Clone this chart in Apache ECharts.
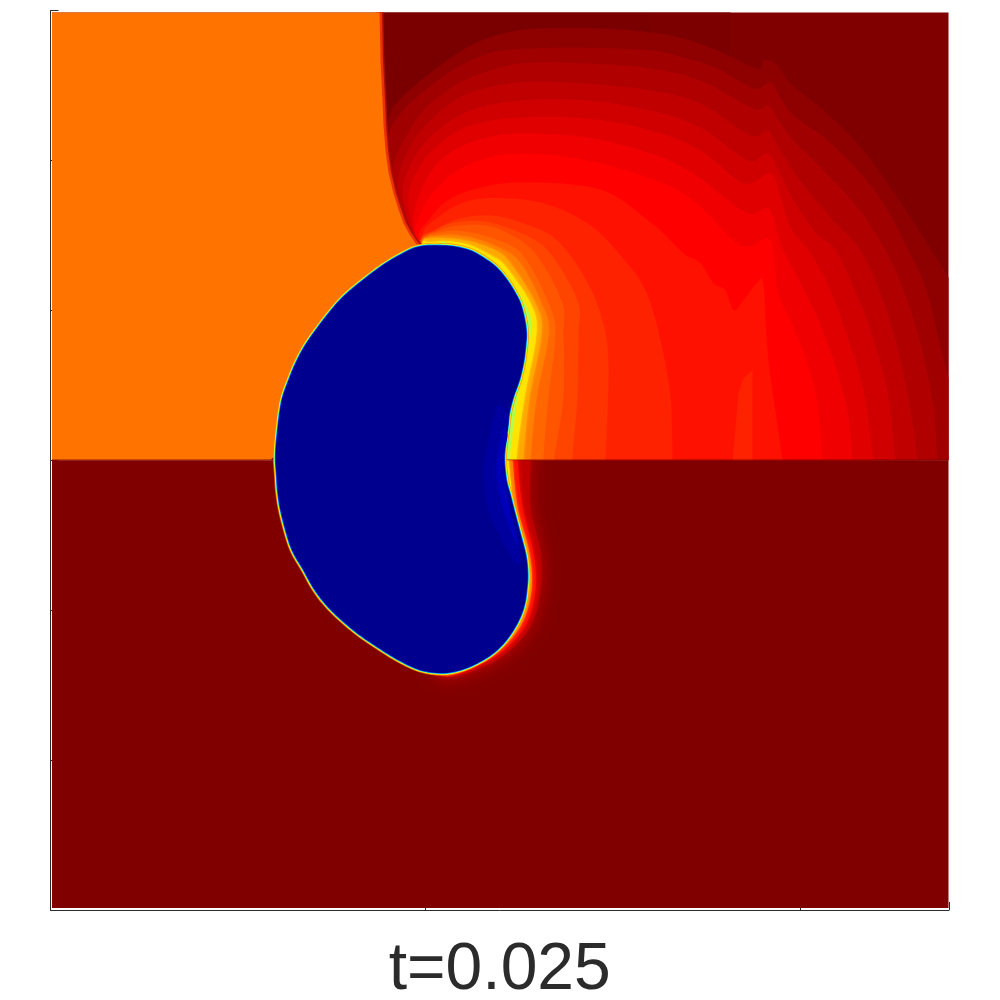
<!DOCTYPE html>
<html><head><meta charset="utf-8">
<script src="https://cdn.jsdelivr.net/npm/echarts@6/dist/echarts.min.js"></script>
<style>html,body{margin:0;padding:0;background:#fff}#c{width:1000px;height:1000px}</style>
</head><body><div id="c"></div>
<script>
const title = 't=0.025';
const xTickStep = 375, yTickStep = 150;
const domainTop = [[1.5,2],[898,2],[898,450],[1.5,450]];
const domainBottom = [[1.5,450],[898,450],[898,898],[1.5,898]];
const topDarkA = [[329,2],[600,2],[600,60],[329,200]];
const topDarkB = [[600,2],[680,2],[680,60],[600,60]];
const L1 = [[930,480],[925,310],[898,267],[860,207],[833,167],[807,133],[773,100],[740,73],[725,53],[713,50],[707,58],[667,40],[633,28],[600,22],[553,18],[487,18],[453,23],[420,35],[387,57],[353,85],[338,107],[335,140],[343,183],[353,213],[365,233],[380,290],[430,480]];
const L2 = [[930,480],[925,430],[898,367],[877,283],[858,240],[833,193],[810,163],[777,130],[743,105],[730,87],[720,72],[703,78],[667,58],[633,47],[600,40],[520,37],[453,40],[420,50],[387,70],[350,103],[337,133],[343,183],[353,213],[365,233],[380,290],[430,480]];
const L3 = [[889,480],[887,450],[883,397],[870,333],[853,280],[835,240],[807,197],[773,160],[743,130],[728,110],[718,95],[703,98],[650,70],[600,58],[537,53],[470,53],[420,67],[387,87],[363,113],[342,157],[348,190],[358,218],[367,233],[380,290],[430,480]];
const L4 = [[869,480],[867,450],[860,400],[847,337],[830,283],[810,240],[780,207],[747,167],[728,137],[717,120],[700,125],[650,93],[600,80],[537,73],[470,72],[420,82],[387,103],[363,130],[348,165],[350,195],[360,222],[367,235],[380,290],[430,480]];
const L5 = [[847,480],[845,450],[837,383],[820,320],[803,277],[785,240],[765,222],[743,190],[728,160],[717,143],[697,150],[650,117],[600,100],[537,90],[470,90],[420,100],[387,120],[365,145],[353,175],[355,202],[362,225],[368,235],[380,290],[430,480]];
const L6 = [[825,480],[823,450],[813,380],[797,327],[780,280],[760,243],[740,217],[730,187],[720,163],[693,173],[650,140],[600,120],[537,108],[470,107],[420,115],[387,135],[367,160],[358,185],[360,210],[365,228],[380,290],[430,480]];
const L7 = [[803,480],[802,450],[797,400],[783,350],[767,307],[750,273],[733,240],[727,223],[718,198],[695,202],[643,163],[600,143],[537,127],[470,123],[437,127],[403,140],[380,162],[365,195],[363,218],[370,235],[380,290],[430,480]];
const L8 = [[773,480],[772,450],[767,393],[757,353],[743,317],[728,283],[723,243],[717,228],[690,235],[643,190],[600,168],[537,150],[470,143],[420,153],[387,177],[370,203],[365,230],[380,290],[430,480]];
const L9 = [[735,480],[732,450],[718,350],[713,275],[707,272],[693,290],[683,300],[675,280],[663,273],[650,253],[633,243],[613,223],[600,212],[553,180],[487,172],[440,175],[400,188],[378,210],[368,230],[380,290],[430,480]];
const L10 = [[622,480],[622,450],[620,387],[610,330],[595,280],[570,245],[540,215],[500,195],[460,188],[420,190],[390,205],[370,230],[380,290],[430,480]];
const pocket = [[682,452],[688,383],[693,368],[702,360],[702,452]];
const L11 = [[555,480],[555,450],[558,353],[550,303],[530,260],[503,227],[470,212],[440,205],[410,208],[387,218],[372,233],[380,290],[430,480]];
const L12 = [[522,480],[522,447],[527,387],[528,323],[528,293],[507,253],[485,230],[440,212],[405,212],[385,220],[370,233],[385,290],[430,480]];
const L13 = [[504,480],[504,447],[513,387],[513,323],[512,293],[490,250],[470,230],[440,216],[410,215],[390,220],[372,233],[385,290],[430,480]];
const L14 = [[493,480],[493,447],[498,387],[505,323],[498,293],[478,253],[460,235],[420,222],[390,222],[372,234],[385,290],[430,480]];
const L15 = [[480,480],[480,447],[486,387],[498,323],[491,293],[470,253],[450,238],[420,227],[390,225],[372,235],[385,290],[430,480]];
const L16 = [[473,480],[473,447],[479,387],[491,323],[485,293],[460,253],[445,240],[420,231],[400,228],[380,228],[372,235],[385,290],[430,480]];
const L17 = [[466,480],[466,447],[474,387],[486,323],[480,293],[455,256],[440,245],[420,235],[400,231],[380,232],[372,236],[385,290],[430,480]];
const L18 = [[459,480],[459,447],[467,387],[480,323],[474,293],[447,258],[422,243],[403,236],[388,236],[385,290],[430,480]];
const bandColors = ['#8f0000','#a00000','#b00000','#c00000','#d00000','#e00000','#f00000','#ff0000','#ff1100','#ff2200','#ff3300','#ff4400','#ff5500','#ff6600','#ff8000','#ffa800','#ffe400','#b0ff50'];
const bandSoft = [0,0,0,0,0,0,0,0,0,0,0,0,0,0,2,3,3,2];
const orangeEdge = [[329,2],[330,50],[332,90],[333,115],[335,140],[338,162],[343,183],[348,199],[353,213],[359,224],[365,233],[370,238]];
const orange = [[329,2],[330,50],[332,90],[333,115],[335,140],[338,162],[343,183],[348,199],[353,213],[359,224],[365,233],[370,238],[370,290],[220,450],[1.5,450],[1.5,2]];
const seam = [[1.5,449],[898,449],[898,450],[1.5,450]];
const H2 = [[480,420],[480,450],[480,497],[490,543],[490,580],[480,616],[455,644],[420,662],[392,666],[385,650],[420,560],[430,420]];
const H3 = [[465,420],[467,450],[472,497],[483,543],[485,580],[475,615],[451,642],[415,661],[392,665],[385,650],[420,560],[430,420]];
const H4 = [[460,420],[462,450],[467,497],[479,543],[481,580],[471,614],[448,641],[412,660],[392,664],[385,650],[420,560],[430,420]];
const H5 = [[456,420],[458,450],[464,497],[477,543],[479,578],[469,613],[446,640],[411,660],[392,663.5],[385,650],[420,560],[430,420]];
const haloColors = ['#c00000','#ff1000','#ff8000','#ffe800'];
const haloSoft = [18,5,3,2];
const blob = [[370,236],[383,235],[403,236],[422,241],[440,252],[449,260],[457,270],[464,281],[470,293],[474,308],[476,323],[475,338],[473,353],[469,370],[463,387],[459,403],[457,420],[455,435],[454,450],[456,470],[460,485],[463,497],[469,520],[475,543],[477,558],[477,573],[474,595],[467,613],[456,630],[443,643],[427,653],[410,660],[392,663],[370,660],[348,650],[327,637],[308,624],[290,609],[275,594],[263,578],[253,560],[243,543],[237,527],[230,500],[227,480],[226,465],[225,450],[225.5,435],[227,420],[229,403],[232,387],[238,370],[245,353],[254,336],[265,320],[278,303],[292,287],[312,270],[335,253],[358,240]];
const deep1 = [[447,395],[438,430],[433,460],[437,497],[450,527],[465,553],[471,545],[460,500],[452,450],[458,410]];
const deep2 = [[452,420],[446,455],[450,490],[462,525],[468,535],[458,490],[453,450],[457,425]];

const layers = [];
const add = (points, o) => layers.push(Object.assign({points}, o));
add(domainTop, {fill:'#800000'});
add(topDarkA, {fill:'#7a0000'});
add(topDarkB, {fill:'#7d0000'});
[L1,L2,L3,L4,L5,L6,L7,L8,L9,L10].forEach((p,i)=>add(p,{fill:bandColors[i],curve:true,above:true}));
add(pocket,{fill:bandColors[9]});
[L11,L12,L13,L14,L15,L16,L17,L18].forEach((p,i)=>add(p,{fill:bandColors[i+10],curve:true,above:true,soft:bandSoft[i+10]}));
add(orangeEdge,{line:'#a81000',width:8});
add(orangeEdge,{line:'#ee3000',width:5});
add(orange,{fill:'#ff7300'});
add(domainBottom,{fill:'#800000'});
[H2,H3,H4,H5].forEach((p,i)=>add(p,{fill:haloColors[i],curve:true,below:true,soft:haloSoft[i]}));
add(seam,{fill:'rgba(128,0,0,0.55)'});
add(blob,{ring:'rgba(255,130,0,0.75)',width:5,curve:true});
add(blob,{ring:'#ffee00',width:3.5,curve:true});
add(blob,{ring:'#40ffc0',width:2.2,curve:true});
add(blob,{ring:'#0070ff',width:1.2,curve:true});
add(blob,{fill:'#00008f',curve:true});
add(deep1,{fill:'#00009e',curve:true});
add(deep2,{fill:'#0000b8',curve:true});

// closed Catmull-Rom path through the projected contour points
function rounded(pts){
  const out=[],n=pts.length,steps=8;
  for(let i=0;i<n;i++){
    const a=pts[(i-1+n)%n],b=pts[i],c=pts[(i+1)%n],d=pts[(i+2)%n];
    for(let k=0;k<steps;k++){
      const t=k/steps,t2=t*t,t3=t2*t;
      out.push([0,1].map(j=>0.5*(2*b[j]+(c[j]-a[j])*t+(2*a[j]-5*b[j]+4*c[j]-d[j])*t2+(3*b[j]-a[j]-3*c[j]+d[j])*t3)));
    }
  }
  return out;
}

const chart = echarts.init(document.getElementById('c'), null, {renderer:'canvas'});
const axisStyle = {lineStyle:{color:'#2b2b2b',width:1}};
chart.setOption({
  animation:false,
  backgroundColor:'#ffffff',
  grid:{left:50.5,top:10.5,width:898.5,height:899.5,outerBoundsMode:'none',containLabel:false},
  xAxis:{type:'value',min:0,max:898.5,interval:xTickStep,position:'bottom',
    name:title,nameLocation:'middle',nameGap:28,
    nameTextStyle:{fontFamily:'Liberation Sans',fontSize:66,color:'#2b2b2b'},
    axisLine:Object.assign({onZero:false},axisStyle),
    axisTick:Object.assign({inside:true,length:8},axisStyle),
    axisLabel:{show:false},splitLine:{show:false}},
  yAxis:{type:'value',min:0,max:900,interval:yTickStep,inverse:true,position:'left',
    axisLine:Object.assign({onZero:false},axisStyle),
    axisTick:Object.assign({inside:true,length:8},axisStyle),
    axisLabel:{show:false},splitLine:{show:false}},
  series:[{
    type:'custom',coordinateSystem:'cartesian2d',clip:false,silent:true,
    data:layers.map((_,i)=>[i]),
    renderItem(params,api){
      const l = layers[api.value(0)];
      let pts = l.points.map(p=>api.coord(p));
      if(l.line){
        return {type:'polyline',shape:{points:pts},style:{fill:null,stroke:l.line,lineWidth:l.width}};
      }
      if(l.curve) pts = rounded(pts);
      const style = l.ring?{fill:null,stroke:l.ring,lineWidth:l.width}:{fill:l.fill};
      if(l.soft){style.shadowBlur=l.soft;style.shadowColor=l.fill;}
      const el = {type:'polygon',shape:{points:pts},style};
      if(l.below||l.above){
        const a=api.coord(l.below?[1.5,450]:[1.5,2]),b=api.coord(l.below?[898,898]:[898,450]);
        el.clipPath={type:'rect',shape:{x:a[0],y:a[1],width:b[0]-a[0],height:b[1]-a[1]}};
      }
      return el;
    }
  }]
});
</script></body></html>
